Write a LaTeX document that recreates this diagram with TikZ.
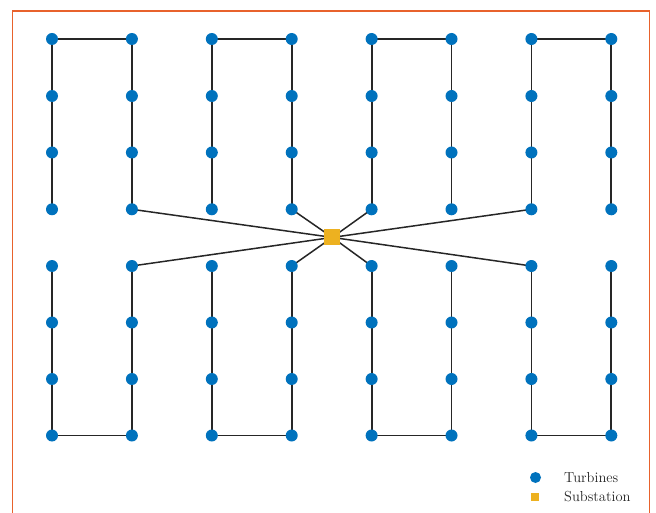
\documentclass[tikz,border=0pt]{standalone}
\usetikzlibrary{positioning}
\definecolor{turbineblue}{RGB}{0,114,189}
\definecolor{subyellow}{RGB}{237,177,32}
\definecolor{frameorange}{RGB}{232,98,44}
\definecolor{cablegray}{RGB}{38,38,38}
\pgfdeclarelayer{cables}
\pgfsetlayers{cables,main}
\tikzset{
  turbine/.style={circle,fill=turbineblue,inner sep=0pt,minimum size=12pt},
  substation/.style={rectangle,fill=subyellow,inner sep=0pt,minimum size=16pt},
  cable/.style={draw=cablegray,line width=1.8pt,line join=miter},
  legendtext/.style={anchor=west,inner sep=0pt,text=cablegray,font=\fontsize{14.5}{17}\selectfont},
  legturbine/.style={circle,fill=turbineblue,inner sep=0pt,minimum size=11pt},
  legsub/.style={rectangle,fill=subyellow,inner sep=0pt,minimum size=8pt},
}
\begin{document}
\begin{tikzpicture}[x=1pt,y=-1pt]
\useasboundingbox (0,0) rectangle (656,513);
\begin{scope}
  \clip (0,0) rectangle (656,513);
  \draw[frameorange,line width=1.5pt] (12.5,11) rectangle (649.5,540);
\end{scope}

% turbine grid: 8 columns x 8 rows
\foreach \c in {0,...,7}{
  \foreach \r/\y in {0/39,1/96,2/152.5,3/209.3,4/266,5/322.5,6/379,7/435.5}{
    \node[turbine] (t-\c-\r) at ({52+79.9*\c},\y) {};
  }
}
\node[substation] (sub) at (332.3,237.4) {};

\begin{pgfonlayer}{cables}
  % strings in the upper and lower halves
  \foreach \a/\b in {0/1,2/3,4/5,6/7}{
    \draw[cable] (t-\a-3.center) -- (t-\a-0.center) -- (t-\b-0.center) -- (t-\b-3.center);
    \draw[cable] (t-\a-4.center) -- (t-\a-7.center) -- (t-\b-7.center) -- (t-\b-4.center);
  }
  % feeders to the substation
  \foreach \c in {1,3,4,6}{
    \draw[cable,line width=1.5pt] (sub.center) -- (t-\c-3.center);
    \draw[cable,line width=1.5pt] (sub.center) -- (t-\c-4.center);
  }
\end{pgfonlayer}

% legend
\node[legturbine] (lt) at (535.5,477.5) {};
\node[legsub] (ls) at (535,496.5) {};
\node[legendtext] (ltx) at (564,477.5) {Turbines};
\node[legendtext] (lsx) at (564,496.5) {Substation};
\end{tikzpicture}
\end{document}
